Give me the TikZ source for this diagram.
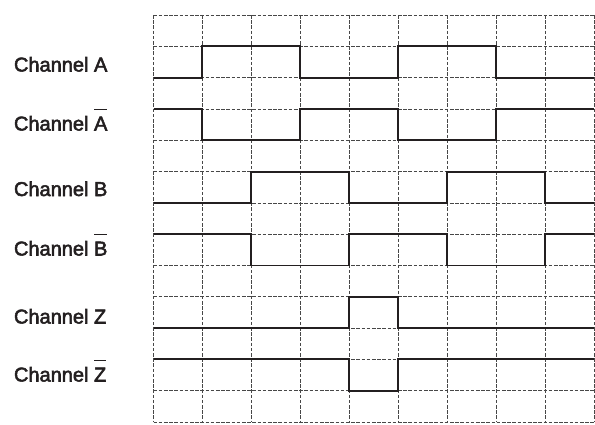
\documentclass[tikz,border=0pt]{standalone}
\usepackage{fontspec}
\setmainfont{Liberation Sans}
\newfontfamily\lblfont[FakeBold=2.6]{Liberation Sans}
\newlength\ovlw
\newcommand\ovl[1]{\settowidth\ovlw{#1}\rlap{\rule[20.6pt]{\ovlw}{1.4pt}}#1}
\definecolor{ink}{HTML}{231F20}
\tikzset{
  gridline/.style={draw=black!72, line width=0.7pt, dash pattern=on 3.6pt off 1.6pt},
  signal/.style={draw=ink, line width=1.9pt, line join=miter, line cap=butt},
  chlabel/.style={anchor=base west, inner sep=0pt, outer sep=0pt, font=\lblfont\fontsize{20pt}{24pt}\selectfont, text=ink}
}
\begin{document}
\begin{tikzpicture}[x=1pt,y=-1pt]
\useasboundingbox (0,0) rectangle (595,424);
\node[chlabel] (labA)    at (14,71.5)  {Channel A};
\node[chlabel] (labAb)   at (14,130.5) {Channel \ovl{A}};
\node[chlabel] (labB)    at (14,196)   {Channel B};
\node[chlabel] (labBb)   at (14,255.5) {Channel \ovl{B}};
\node[chlabel] (labZ)    at (14,323.5) {Channel Z};
\node[chlabel] (labZb)   at (14,381.5) {Channel \ovl{Z}};
\begin{scope}[shift={(153.5pt,-15pt)}, x=48.944pt, y=-31.31pt]
  \foreach \i in {0,...,9} \draw[gridline] (\i,0) -- (\i,13);
  \foreach \j in {0,...,13} \draw[gridline] (0,\j) -- (9,\j);
  % Channel A
  \draw[signal] (0,2) -- (1,2) -- (1,1) -- (3,1) -- (3,2) -- (5,2) -- (5,1) -- (7,1) -- (7,2) -- (9,2);
  % Channel A bar
  \draw[signal] (0,3) -- (1,3) -- (1,4) -- (3,4) -- (3,3) -- (5,3) -- (5,4) -- (7,4) -- (7,3) -- (9,3);
  % Channel B
  \draw[signal] (0,6) -- (2,6) -- (2,5) -- (4,5) -- (4,6) -- (6,6) -- (6,5) -- (8,5) -- (8,6) -- (9,6);
  % Channel B bar
  \draw[signal] (0,7) -- (2,7) -- (2,8) -- (4,8) -- (4,7) -- (6,7) -- (6,8) -- (8,8) -- (8,7) -- (9,7);
  % Channel Z
  \draw[signal] (0,10) -- (4,10) -- (4,9) -- (5,9) -- (5,10) -- (9,10);
  % Channel Z bar
  \draw[signal] (0,11) -- (4,11) -- (4,12) -- (5,12) -- (5,11) -- (9,11);
\end{scope}
\end{tikzpicture}
\end{document}
